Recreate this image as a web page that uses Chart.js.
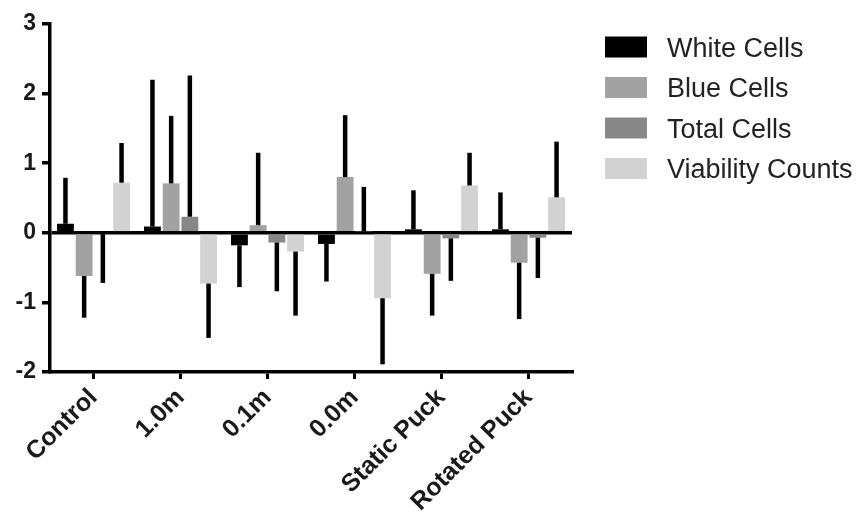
<!DOCTYPE html>
<html>
<head>
<meta charset="utf-8">
<script src="https://cdn.jsdelivr.net/npm/chart.js@4.4.1/dist/chart.umd.min.js"></script>
<style>
html,body{margin:0;padding:0;background:#fff;}
canvas{display:block;}
</style>
</head>
<body>
<canvas id="c" width="864" height="517"></canvas>
<script>
const categories = ['Control', '1.0m', '0.1m', '0.0m', 'Static Puck', 'Rotated Puck'];
const seriesNames = ['White Cells', 'Blue Cells', 'Total Cells', 'Viability Counts'];
const whiteCells = [0.13, 0.09, -0.18, -0.16, 0.05, 0.05];
const whiteCellsErr = [0.66, 2.11, 0.6, 0.54, 0.56, 0.53];
const blueCells = [-0.62, 0.71, 0.11, 0.80, -0.59, -0.43];
const blueCellsErr = [0.60, 0.97, 1.04, 0.89, 0.60, 0.81];
const totalCells = [-0.02, 0.23, -0.14, 0.02, -0.08, -0.07];
const totalCellsErr = [0.70, 2.03, 0.70, 0.64, 0.61, 0.58];
const viability = [0.72, -0.73, -0.27, -0.94, 0.68, 0.51];
const viabilityErr = [0.57, 0.78, 0.92, 0.95, 0.47, 0.80];
const yTicks = [-2, -1, 0, 1, 2, 3];

const colors = ['#000000', '#a2a2a2', '#878787', '#d2d2d2'];
const values = [whiteCells, blueCells, totalCells, viability];
const errors = [whiteCellsErr, blueCellsErr, totalCellsErr, viabilityErr];

const errorBars = {
  id: 'errorBars',
  afterDatasetsDraw(chart) {
    const ctx = chart.ctx;
    const y = chart.scales.y;
    ctx.save();
    ctx.strokeStyle = '#000';
    ctx.lineWidth = 4.5;
    chart.data.datasets.forEach((ds, di) => {
      const meta = chart.getDatasetMeta(di);
      meta.data.forEach((bar, i) => {
        const v = ds.data[i];
        const e = ds.err[i];
        const end = v >= 0 ? v + e : v - e;
        ctx.beginPath();
        ctx.moveTo(bar.x, y.getPixelForValue(v));
        ctx.lineTo(bar.x, y.getPixelForValue(end));
        ctx.stroke();
      });
    });
    ctx.restore();
  }
};

const sideLegend = {
  id: 'sideLegend',
  afterDraw(chart) {
    const ctx = chart.ctx;
    ctx.save();
    ctx.font = '27px "Liberation Sans", Arial, sans-serif';
    ctx.textBaseline = 'alphabetic';
    ctx.textAlign = 'left';
    chart.data.datasets.forEach((ds, i) => {
      const cy = 47 + i * 40.5;
      ctx.fillStyle = ds.backgroundColor;
      ctx.fillRect(605, cy - 10.5, 42, 21);
      ctx.fillStyle = '#222';
      ctx.fillText(ds.label, 667, cy + 9.5);
    });
    ctx.restore();
  }
};

new Chart(document.getElementById('c'), {
  type: 'bar',
  data: {
    labels: categories,
    datasets: seriesNames.map((name, i) => ({
      label: name,
      data: values[i],
      err: errors[i],
      backgroundColor: colors[i],
      borderWidth: 0,
      categoryPercentage: 0.86,
      barPercentage: 0.9
    }))
  },
  options: {
    responsive: false,
    animation: false,
    layout: { padding: { top: 24, right: 292, bottom: 0, left: 0 } },
    plugins: { legend: { display: false }, tooltip: { enabled: false } },
    scales: {
      x: {
        offset: true,
        afterFit(s) { s.height = 145; },
        grid: { display: true, drawOnChartArea: false, offset: false, color: '#000', lineWidth: 3, tickLength: 7 },
        border: { display: true, color: '#000', width: 3.5 },
        ticks: {
          autoSkip: false, maxRotation: 45, minRotation: 45, padding: 4,
          color: '#1a1a1a', font: { family: '"Liberation Sans", Arial, sans-serif', size: 25, weight: 'bold' }
        }
      },
      y: {
        min: -2, max: 3,
        afterFit(s) { s.width = 50; },
        afterBuildTicks(s) { s.ticks = yTicks.map(v => ({ value: v })); },
        grid: {
          display: true, drawOnChartArea: true, lineWidth: 3.5, tickLength: 8, tickColor: '#000',
          color: (c) => (c.tick && c.tick.value === 0) ? '#000' : 'rgba(0,0,0,0)'
        },
        border: { display: true, color: '#000', width: 3.5 },
        ticks: {
          padding: 6, color: '#1a1a1a',
          font: { family: '"Liberation Sans", Arial, sans-serif', size: 23, weight: 'bold' }
        }
      }
    }
  },
  plugins: [errorBars, sideLegend]
});
</script>
</body>
</html>
